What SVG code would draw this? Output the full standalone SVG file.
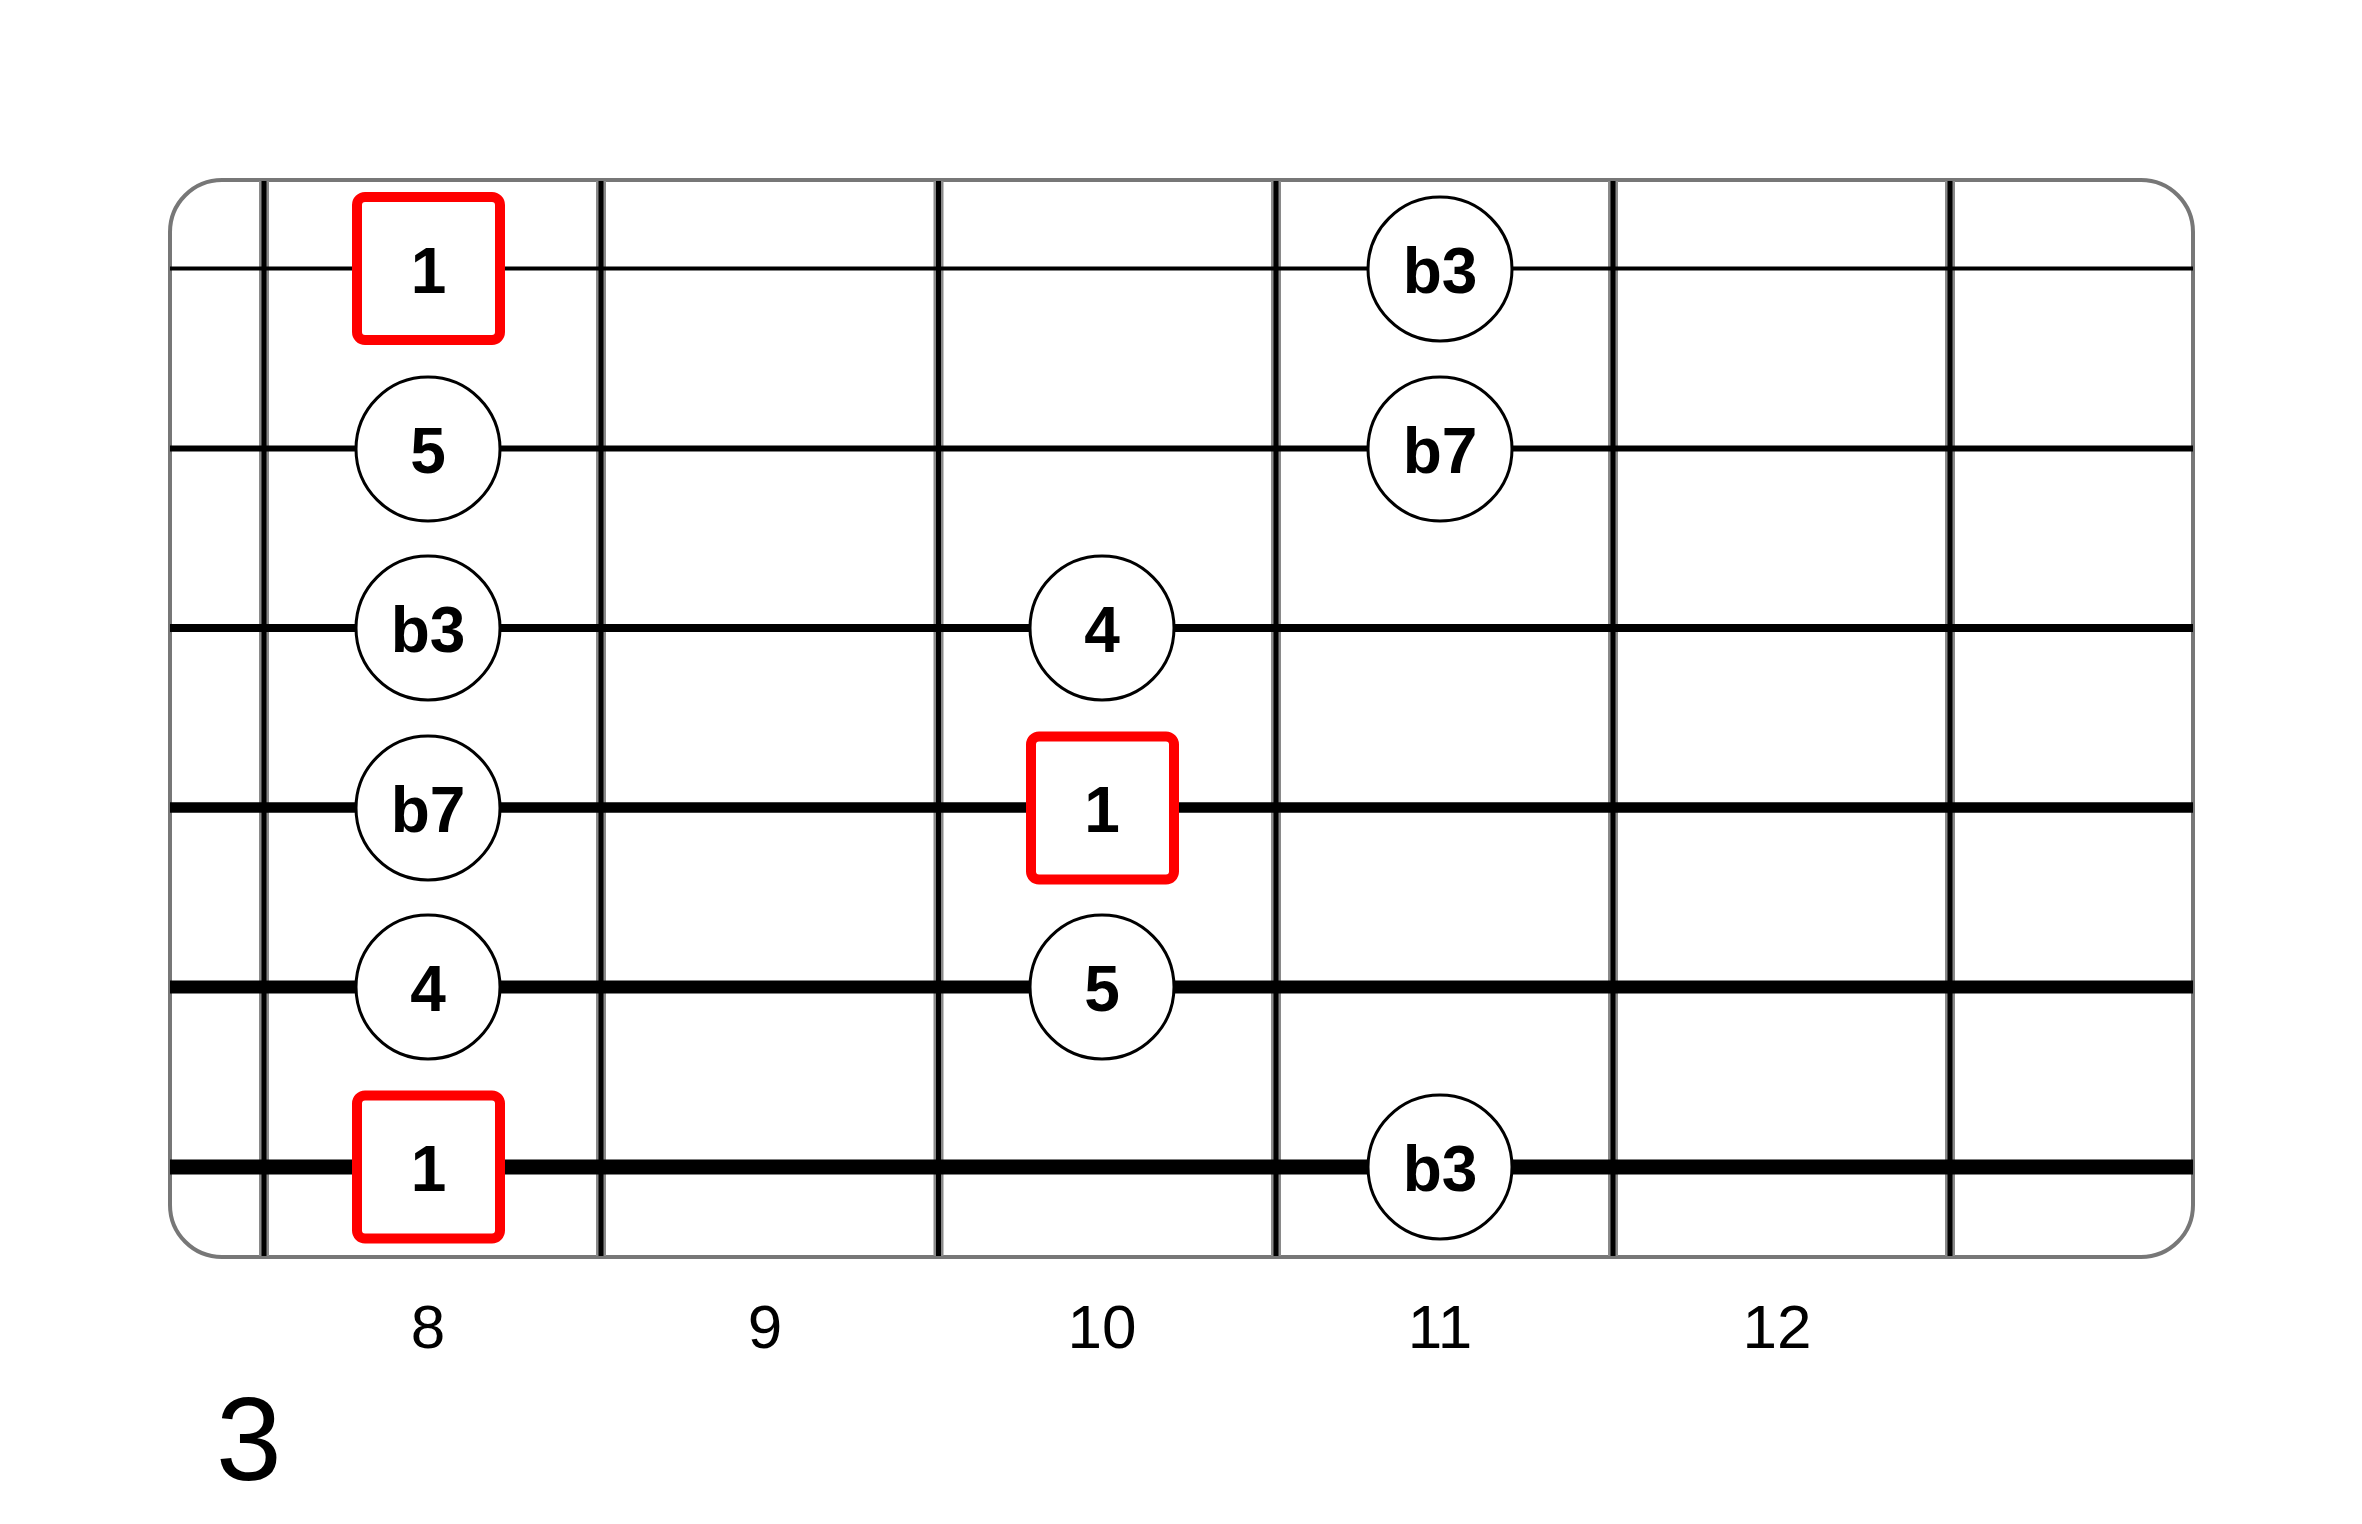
<svg xmlns="http://www.w3.org/2000/svg" width="2362" height="1524" viewBox="0 0 2362 1524">
<style>
.fret-bg{stroke:#8a8a8a;stroke-width:10;}
.fret{stroke:#000;stroke-width:5;}
.str{stroke:#000;}
.note{fill:#fff;stroke:#000;stroke-width:3;}
.root{fill:#fff;stroke:#ff0000;stroke-width:10;}
.lbl{font-family:"Liberation Sans",Arial,sans-serif;font-weight:bold;font-size:64px;text-anchor:middle;fill:#000;}
.num{font-family:"Liberation Sans",Arial,sans-serif;font-size:62px;text-anchor:middle;fill:#000;}
.big{font-family:"Liberation Sans",Arial,sans-serif;font-size:118px;fill:#000;}
</style>
<rect width="2362" height="1524" fill="#fff"/>
<g id="board">
<rect x="170" y="180" width="2023" height="1077" rx="52" ry="52" fill="#fff" stroke="#777" stroke-width="4"/>
</g>
<g id="connectors">
<g id="frets">
<line class="fret-bg" x1="264" y1="181" x2="264" y2="1256"/>
<line class="fret-bg" x1="601" y1="181" x2="601" y2="1256"/>
<line class="fret-bg" x1="938.5" y1="181" x2="938.5" y2="1256"/>
<line class="fret-bg" x1="1276" y1="181" x2="1276" y2="1256"/>
<line class="fret-bg" x1="1613" y1="181" x2="1613" y2="1256"/>
<line class="fret-bg" x1="1950" y1="181" x2="1950" y2="1256"/>
<line class="fret" x1="264" y1="181" x2="264" y2="1256"/>
<line class="fret" x1="601" y1="181" x2="601" y2="1256"/>
<line class="fret" x1="938.5" y1="181" x2="938.5" y2="1256"/>
<line class="fret" x1="1276" y1="181" x2="1276" y2="1256"/>
<line class="fret" x1="1613" y1="181" x2="1613" y2="1256"/>
<line class="fret" x1="1950" y1="181" x2="1950" y2="1256"/>
</g>
<g id="strings">
<line class="str" x1="170" y1="268.5" x2="2193" y2="268.5" stroke-width="4"/>
<line class="str" x1="170" y1="448.5" x2="2193" y2="448.5" stroke-width="6"/>
<line class="str" x1="170" y1="628" x2="2193" y2="628" stroke-width="8"/>
<line class="str" x1="170" y1="807.5" x2="2193" y2="807.5" stroke-width="10.5"/>
<line class="str" x1="170" y1="987" x2="2193" y2="987" stroke-width="13"/>
<line class="str" x1="170" y1="1167" x2="2193" y2="1167" stroke-width="15"/>
</g>
</g>
<g id="n1-8"><rect class="root" x="357" y="197" width="143" height="143" rx="8"/><text class="lbl" x="428.5" y="293">1</text></g>
<g id="n1-11"><circle class="note" cx="1440" cy="269" r="72"/><text class="lbl" x="1440" y="293">b3</text></g>
<g id="n2-8"><circle class="note" cx="428" cy="449" r="72"/><text class="lbl" x="428" y="473">5</text></g>
<g id="n2-11"><circle class="note" cx="1440" cy="449" r="72"/><text class="lbl" x="1440" y="473">b7</text></g>
<g id="n3-8"><circle class="note" cx="428" cy="628" r="72"/><text class="lbl" x="428" y="652">b3</text></g>
<g id="n3-10"><circle class="note" cx="1102" cy="628" r="72"/><text class="lbl" x="1102" y="652">4</text></g>
<g id="n4-8"><circle class="note" cx="428" cy="808" r="72"/><text class="lbl" x="428" y="832">b7</text></g>
<g id="n4-10"><rect class="root" x="1031" y="736.5" width="143" height="143" rx="8"/><text class="lbl" x="1102" y="832">1</text></g>
<g id="n5-8"><circle class="note" cx="428" cy="987" r="72"/><text class="lbl" x="428" y="1011">4</text></g>
<g id="n5-10"><circle class="note" cx="1102" cy="987" r="72"/><text class="lbl" x="1102" y="1011">5</text></g>
<g id="n6-8"><rect class="root" x="357" y="1095.5" width="143" height="143" rx="8"/><text class="lbl" x="428.5" y="1191">1</text></g>
<g id="n6-11"><circle class="note" cx="1440" cy="1167" r="72"/><text class="lbl" x="1440" y="1191">b3</text></g>
<g id="fret-numbers">
<text class="num" x="428" y="1348">8</text>
<text class="num" x="765" y="1348">9</text>
<text class="num" x="1102" y="1348">10</text>
<text class="num" x="1440" y="1348">11</text>
<text class="num" x="1777" y="1348">12</text>
</g>
<text id="position" class="big" x="216" y="1480">3</text>
</svg>
